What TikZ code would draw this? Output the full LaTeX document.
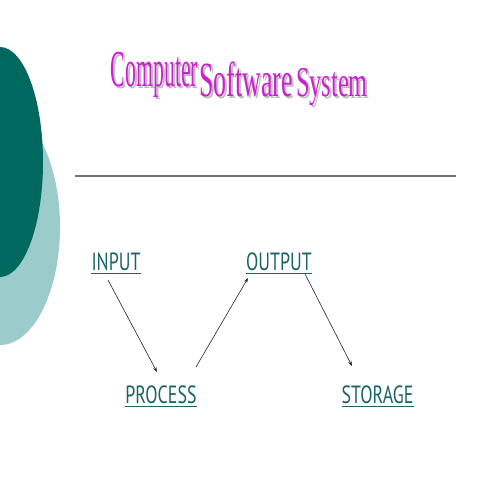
\documentclass[tikz,border=0pt]{standalone}
\usepackage{fontspec}
\setmainfont{Liberation Serif}
\newfontfamily\labelfont{PT Sans}
\usetikzlibrary{arrows.meta}
\definecolor{darkteal}{HTML}{00685F}
\definecolor{lightteal}{HTML}{9CCBCB}
\definecolor{labelteal}{HTML}{1A6464}
\definecolor{titlemag}{HTML}{CC22CC}
\tikzset{
  lbl/.style={font=\labelfont\fontsize{25}{25}\selectfont, text=labelteal, xscale=0.72, inner sep=0pt, anchor=base},
  titleword/.style={font=\fontsize{52}{52}\selectfont, text=titlemag, inner sep=0pt, anchor=base},
  shadowword/.style={font=\fontsize{52}{52}\selectfont, text=black!25, inner sep=0pt, anchor=base},
  flow/.style={draw=black!85, line width=0.6bp, -{Stealth[length=5bp,width=3.5bp]}},
  uline/.style={draw=labelteal, line width=0.8bp}
}
\begin{document}
\begin{tikzpicture}[x=1bp,y=-1bp]
\useasboundingbox (0,0) rectangle (480,480);
\fill[white] (0,0) rectangle (480,480);
% decorative ellipses
\fill[lightteal] (0,227) ellipse [x radius=60, y radius=118];
\fill[darkteal] (0,162) ellipse [x radius=43, y radius=115];
% title (wordart-like, sloping)
\node[shadowword, xscale=0.42, yscale=1.0] at (156.5,89) {Computer};
\node[titleword, xscale=0.42, yscale=1.0] (t1) at (154.5,87) {Computer};
\node[shadowword, xscale=0.50, yscale=0.95] at (248,99) {Software};
\node[titleword, xscale=0.50, yscale=0.95] (t2) at (246,97) {Software};
\node[shadowword, xscale=0.47, yscale=0.82] at (334,99) {System};
\node[titleword, xscale=0.47, yscale=0.82] (t3) at (332,97) {System};
% rule
\draw[black!55, line width=1.2bp] (75,176) -- (456,176);
% labels
\node[lbl] (in) at (116,270) {INPUT};
\node[lbl] (out) at (279,270) {OUTPUT};
\node[lbl] (proc) at (161,403) {PROCESS};
\node[lbl] (stor) at (377.5,403) {STORAGE};
\draw[uline] ([yshift=-3bp]in.base west) -- ([yshift=-3bp]in.base east);
\draw[uline] ([yshift=-3bp]out.base west) -- ([yshift=-3bp]out.base east);
\draw[uline] ([yshift=-3bp]proc.base west) -- ([yshift=-3bp]proc.base east);
\draw[uline] ([yshift=-3bp]stor.base west) -- ([yshift=-3bp]stor.base east);
% connectors
\coordinate (a1) at (108,280);
\coordinate (a2) at (157,372);
\coordinate (b1) at (196,367);
\coordinate (b2) at (248,278);
\coordinate (c1) at (305,274);
\coordinate (c2) at (352,366);
\draw[flow] (a1) -- (a2);
\draw[flow] (b1) -- (b2);
\draw[flow] (c1) -- (c2);
\end{tikzpicture}
\end{document}
